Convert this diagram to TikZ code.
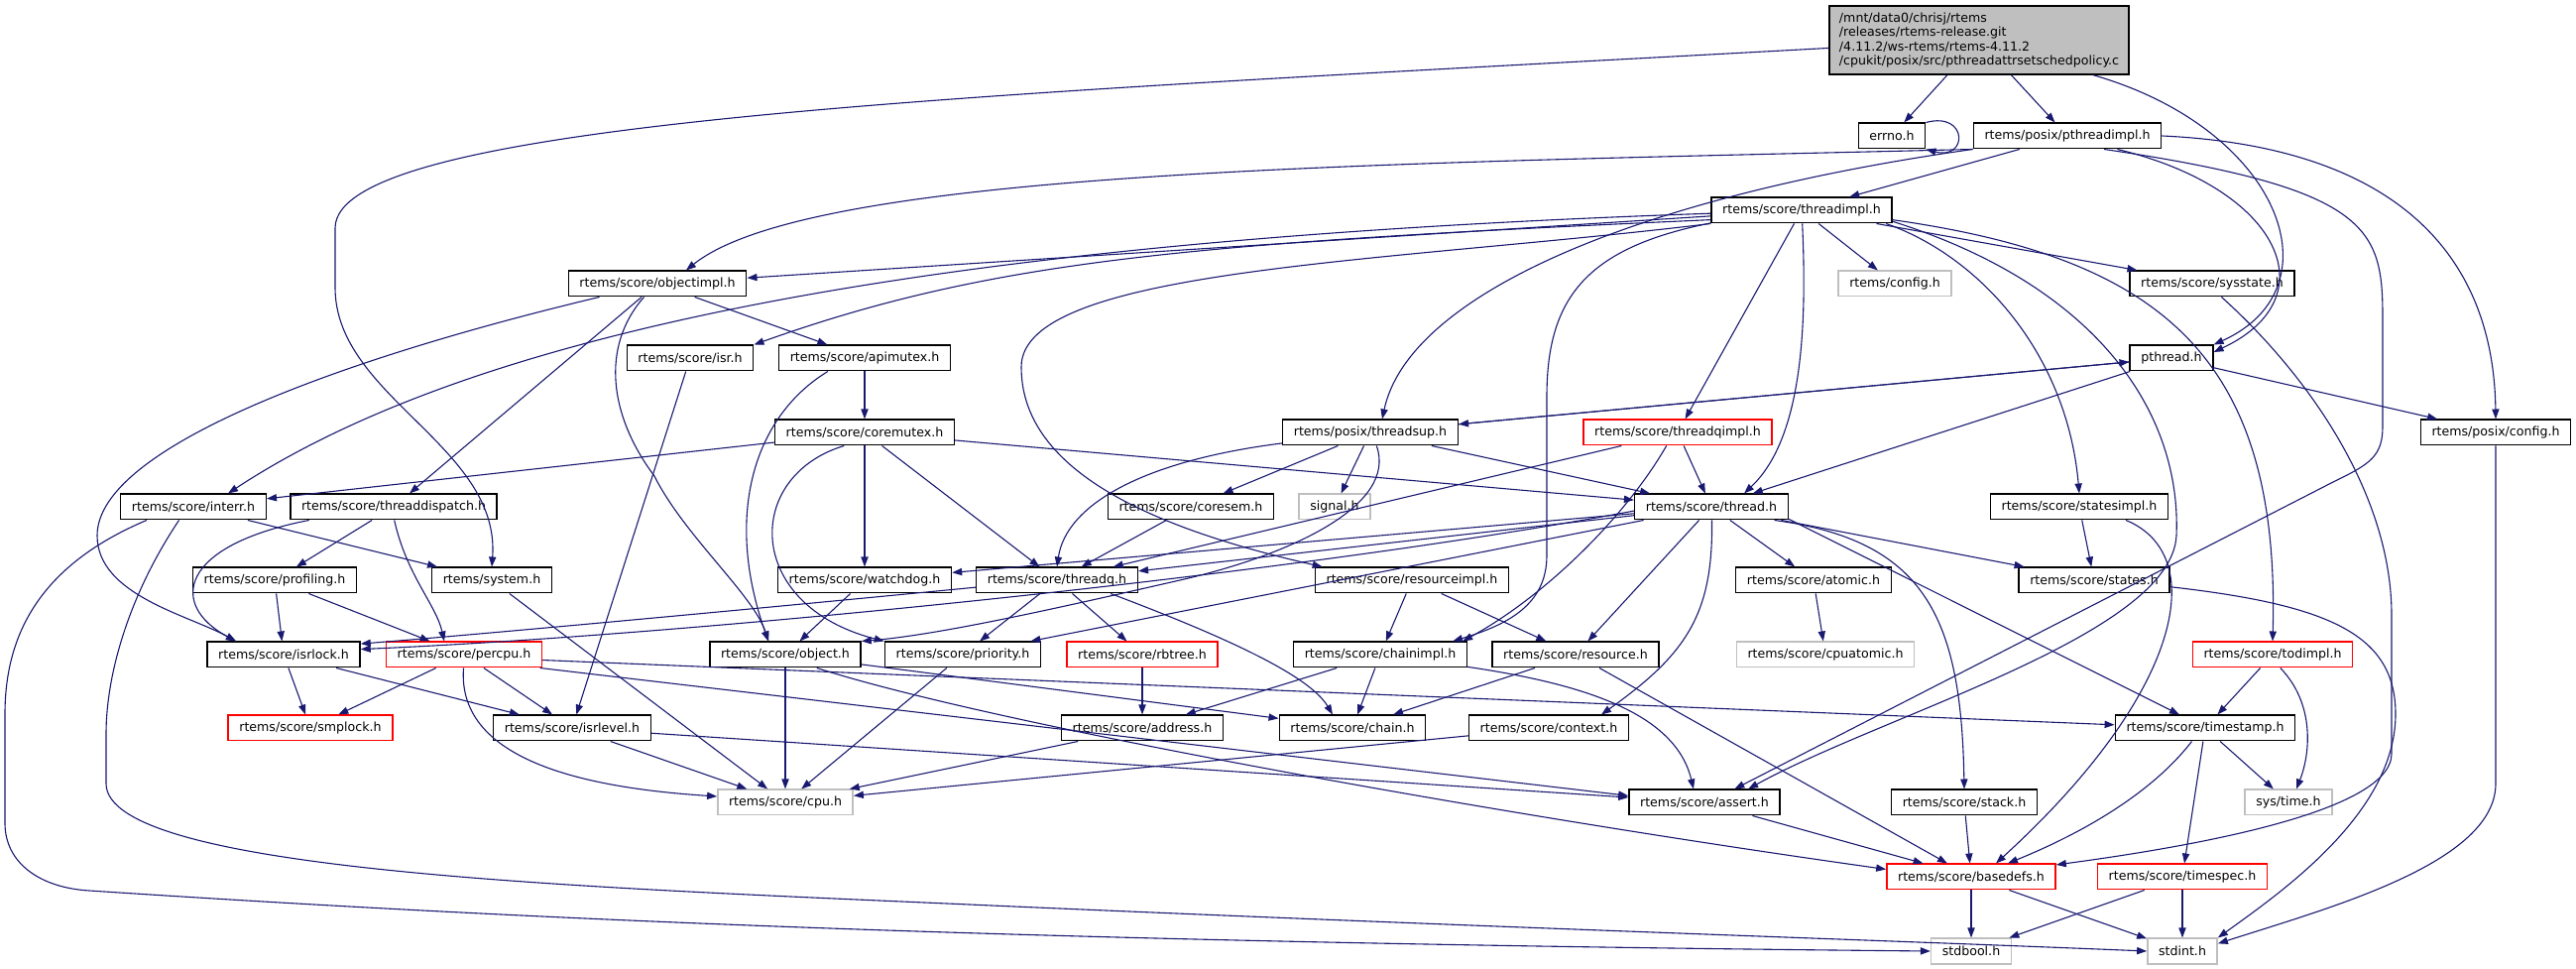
\documentclass[tikz,border=0pt]{standalone}
\usepackage{fontspec}
\setmainfont{DejaVu Sans}
\usetikzlibrary{arrows.meta,calc}
\definecolor{edgeblue}{HTML}{191970}
\definecolor{boxgray}{HTML}{BFBFBF}
\begin{document}
\begin{tikzpicture}[
x = 0.5pt, y = -0.5pt,
font = \fontsize{6.3}{7.15}\selectfont,
hdr/.style = {draw=black, line width=0.7pt, fill=white, minimum height=12.8pt, inner xsep=5.6pt, inner ysep=0pt},
nodoc/.style = {hdr, draw=boxgray},
trunc/.style = {hdr, draw=red},
dep/.style = {draw=edgeblue, line width=0.55pt, -{Triangle[length=5pt,width=3.6pt]}},
]
\useasboundingbox (0,0) rectangle (2598,977);

\node [hdr, fill=boxgray, align=left, minimum height=34.5pt, inner xsep=5pt] (root) at (1996,40.5) {/mnt/data0/chrisj/rtems\\/releases/rtems-release.git\\/4.11.2/ws-rtems/rtems-4.11.2\\/cpukit/posix/src/pthreadattrsetschedpolicy.c};
\node [hdr] (errno) at (1908,137) {errno.h};
\node [hdr] (pthreadimpl) at (2085,137) {rtems/posix/pthreadimpl.h};
\node [hdr] (threadimpl) at (1817,212) {rtems/score/threadimpl.h};
\node [hdr] (objectimpl) at (663,286) {rtems/score/objectimpl.h};
\node [nodoc] (config) at (1911,286) {rtems/config.h};
\node [hdr] (sysstate) at (2231,286) {rtems/score/sysstate.h};
\node [hdr] (isr) at (696,361) {rtems/score/isr.h};
\node [hdr] (apimutex) at (872,361) {rtems/score/apimutex.h};
\node [hdr] (pthread) at (2190,361) {pthread.h};
\node [hdr] (coremutex) at (872,436) {rtems/score/coremutex.h};
\node [hdr] (threadsup) at (1382,436) {rtems/posix/threadsup.h};
\node [trunc] (threadqimpl) at (1692,436) {rtems/score/threadqimpl.h};
\node [hdr] (posixconfig) at (2517,436) {rtems/posix/config.h};
\node [hdr] (interr) at (195,511) {rtems/score/interr.h};
\node [hdr] (threaddispatch) at (397,511) {rtems/score/threaddispatch.h};
\node [hdr] (coresem) at (1201,511) {rtems/score/coresem.h};
\node [nodoc] (signal) at (1346,511) {signal.h};
\node [hdr] (thread) at (1726,511) {rtems/score/thread.h};
\node [hdr] (statesimpl) at (2097,511) {rtems/score/statesimpl.h};
\node [hdr] (profiling) at (277,585) {rtems/score/profiling.h};
\node [hdr] (system) at (496,585) {rtems/system.h};
\node [hdr] (watchdog) at (872,585) {rtems/score/watchdog.h};
\node [hdr] (threadq) at (1066,585) {rtems/score/threadq.h};
\node [hdr] (resourceimpl) at (1424,585) {rtems/score/resourceimpl.h};
\node [hdr] (atomic) at (1829,585) {rtems/score/atomic.h};
\node [hdr] (states) at (2112,585) {rtems/score/states.h};
\node [hdr] (isrlock) at (286,660) {rtems/score/isrlock.h};
\node [trunc] (percpu) at (468,660) {rtems/score/percpu.h};
\node [hdr] (object) at (792,660) {rtems/score/object.h};
\node [hdr] (priority) at (971,660) {rtems/score/priority.h};
\node [trunc] (rbtree) at (1152,660) {rtems/score/rbtree.h};
\node [hdr] (chainimpl) at (1392,660) {rtems/score/chainimpl.h};
\node [hdr] (resource) at (1589,660) {rtems/score/resource.h};
\node [nodoc] (cpuatomic) at (1841,660) {rtems/score/cpuatomic.h};
\node [trunc] (todimpl) at (2292,660) {rtems/score/todimpl.h};
\node [trunc] (smplock) at (313,734) {rtems/score/smplock.h};
\node [hdr] (isrlevel) at (577,734) {rtems/score/isrlevel.h};
\node [hdr] (address) at (1152,734) {rtems/score/address.h};
\node [hdr] (chain) at (1364,734) {rtems/score/chain.h};
\node [hdr] (context) at (1562,734) {rtems/score/context.h};
\node [hdr] (timestamp) at (2224,734) {rtems/score/timestamp.h};
\node [nodoc] (cpu) at (792,809) {rtems/score/cpu.h};
\node [hdr] (assert) at (1719,809) {rtems/score/assert.h};
\node [hdr] (stack) at (1981,809) {rtems/score/stack.h};
\node [nodoc] (systime) at (2308,809) {sys/time.h};
\node [trunc] (basedefs) at (1988,884) {rtems/score/basedefs.h};
\node [trunc] (timespec) at (2201,884) {rtems/score/timespec.h};
\node [nodoc] (stdbool) at (1988,959) {stdbool.h};
\node [nodoc] (stdint) at (2201,959) {stdint.h};

\path[dep] (root) -- (errno);
\path[dep] (root) -- (pthreadimpl);
\path[dep] (root.-17) .. controls (2300,130) and (2360,290) .. (pthread.north east);
\path[dep] (root.183) .. controls (1000,95) and (338,120) .. (338,230) -- (338,290) .. controls (338,400) and (505,450) .. (system.north);
\path[dep] (errno.north east) .. controls (1985,112) and (1985,162) .. (errno.south east);

\path[dep] (pthreadimpl) -- (threadimpl);
\path[dep] (pthreadimpl.south west) .. controls (1400,165) and (820,170) .. (objectimpl.25);
\path[dep] (pthreadimpl.south west) .. controls (1640,200) and (1420,300) .. ($(threadsup.north)+(12,0)$);
\path[dep] (pthreadimpl.-15) .. controls (2300,190) and (2350,300) .. (pthread.8);
\path[dep] (pthreadimpl.east) .. controls (2420,148) and (2515,260) .. (posixconfig.north);
\path[dep] (pthreadimpl.-20) .. controls (2390,190) and (2403,230) .. (2403,320) -- (2403,430) .. controls (2403,460) and (2390,468) .. (2355,485) -- (assert.24);

\path[dep] (threadimpl) -- (objectimpl);
\path[dep] (threadimpl.186) .. controls (1200,245) and (1000,262) .. (isr.north east);
\path[dep] (threadimpl.182) .. controls (1000,240) and (500,320) .. ($(interr.north)+(35,0)$);
\path[dep] (threadimpl.south west) .. controls (1400,265) and (1030,270) .. (1030,370) .. controls (1030,470) and (1150,530) .. ($(resourceimpl.north west)+(8,0)$);
\path[dep] (threadimpl.-172) .. controls (1600,250) and (1560,300) .. (1560,400) -- (1560,560) .. controls (1560,610) and (1520,630) .. ($(chainimpl.north east)+(-15,0)$);
\path[dep] (threadimpl) -- (threadqimpl);
\path[dep] (threadimpl.-87) .. controls (1822,320) and (1820,440) .. ($(thread.north)+(33,0)$);
\path[dep] (threadimpl) -- (config);
\path[dep] (threadimpl) -- (sysstate);
\path[dep] (threadimpl.-9) .. controls (2000,260) and (2085,360) .. (statesimpl.north);
\path[dep] (threadimpl.-6) .. controls (2180,260) and (2300,360) .. (todimpl.north);
\path[dep] (threadimpl.-7) .. controls (2120,290) and (2200,420) .. (2195,540) .. controls (2190,640) and (1900,720) .. (assert.17);

\path[dep] (objectimpl) -- (apimutex);
\path[dep] (objectimpl.-135) .. controls (605,350) and (615,420) .. (660,480) .. controls (690,540) and (760,600) .. ($(object.north)+(-17,0)$);
\path[dep] (objectimpl.-167) .. controls (350,360) and (98,450) .. (98,540) .. controls (98,600) and (190,620) .. ($(isrlock.north)+(-48,0)$);
\path[dep] (objectimpl) -- (threaddispatch);

\path[dep] (isr) -- (isrlevel);
\path[dep] (apimutex) -- (coremutex);
\path[dep] (apimutex.-160) .. controls (760,420) and (730,520) .. ($(object.north)+(-17,0)$);

\path[dep] (coremutex) -- (interr);
\path[dep] (coremutex) -- (thread);
\path[dep] (coremutex) -- (watchdog);
\path[dep] (coremutex) -- (threadq);
\path[dep] (coremutex.-147) .. controls (750,480) and (750,610) .. (priority.north west);

\path[dep] (threadsup) -- (pthread);
\path[dep] (pthread) -- (threadsup);
\path[dep] (threadsup) -- (coresem);
\path[dep] (threadsup) -- (signal);
\path[dep] (threadsup) -- (thread);
\path[dep] (threadsup.-173) .. controls (1150,465) and (1075,510) .. (threadq.north);
\path[dep] (threadsup.-65) .. controls (1410,510) and (1300,560) .. (1190,585) .. controls (1080,610) and (950,640) .. (object.north east);

\path[dep] (thread) -- (watchdog);
\path[dep] (thread) -- (threadq);
\path[dep] (thread.183) .. controls (1300,580) and (700,640) .. (isrlock.4);
\path[dep] (thread) -- (priority);
\path[dep] (thread) -- (atomic);
\path[dep] (thread) -- (states);
\path[dep] (thread) -- (resource);
\path[dep] (thread.-88) .. controls (1728,620) and (1700,660) .. ($(context.north)+(53,0)$);
\path[dep] (thread.-12) .. controls (1940,545) and (1978,620) .. (stack.north);
\path[dep] (thread.-9) -- ($(timestamp.north)+(-26,0)$);

\path[dep] (threadqimpl) -- (thread);
\path[dep] (threadqimpl) -- (threadq);
\path[dep] (threadqimpl.-130) .. controls (1640,520) and (1560,600) .. ($(chainimpl.north east)+(-5,0)$);

\path[dep] (coresem) -- (threadq);
\path[dep] (watchdog) -- (object);

\path[dep] (threadq) -- (priority);
\path[dep] (threadq) -- (rbtree);
\path[dep] (threadq.-14) .. controls (1230,640) and (1320,680) .. ($(chain.north)+(-20,0)$);
\path[dep] (threadq.-175) .. controls (750,615) and (480,640) .. (isrlock.8);

\path[dep] (resourceimpl) -- (chainimpl);
\path[dep] (resourceimpl) -- (resource);
\path[dep] (chainimpl) -- (address);
\path[dep] (chainimpl) -- (chain);
\path[dep] (chainimpl.-8) .. controls (1600,690) and (1690,720) .. ($(assert.north)+(-11,0)$);
\path[dep] (resource) -- (chain);
\path[dep] (resource) -- (basedefs);
\path[dep] (rbtree) -- (address);
\path[dep] (address) -- (cpu);
\path[dep] (context) -- (cpu);

\path[dep] (object) -- (cpu);
\path[dep] (object) -- (chain);
\path[dep] (object.-23) .. controls (1000,730) and (1500,820) .. (basedefs.175);
\path[dep] (priority) -- (cpu);

\path[dep] (percpu) -- (smplock);
\path[dep] (percpu) -- (isrlevel);
\path[dep] (percpu.-92) .. controls (460,770) and (600,795) .. (cpu.175);
\path[dep] (percpu.-4) -- (timestamp.178);
\path[dep] (percpu.-10) -- (assert.175);

\path[dep] (isrlock) -- (smplock);
\path[dep] (isrlock) -- (isrlevel);
\path[dep] (isrlevel) -- (cpu);
\path[dep] (isrlevel) -- (assert);
\path[dep] (profiling) -- (isrlock);
\path[dep] (profiling) -- (percpu);

\path[dep] (threaddispatch.-171) .. controls (180,550) and (170,610) .. ($(isrlock.north)+(-48,0)$);
\path[dep] (threaddispatch) -- (profiling);
\path[dep] (threaddispatch.-87) .. controls (410,580) and (440,610) .. ($(percpu.north)+(-20,0)$);

\path[dep] (interr) -- (system);
\path[dep] (interr.-164) .. controls (40,570) and (5,640) .. (5,720) -- (5,830) .. controls (5,870) and (40,895) .. (90,898) .. controls (500,925) and (1000,950) .. (stdbool.west);
\path[dep] (interr.-137) .. controls (130,600) and (107,680) .. (107,740) -- (107,790) .. controls (107,880) and (600,895) .. (1000,913) .. controls (1500,935) and (1900,948) .. (stdint.west);
\path[dep] (system) -- (cpu);

\path[dep] (atomic) -- (cpuatomic);
\path[dep] (statesimpl) -- (states);
\path[dep] (statesimpl.-16) .. controls (2230,560) and (2200,700) .. ($(basedefs.north)+(25,0)$);
\path[dep] (states.-5) .. controls (2350,610) and (2416,640) .. (2416,720) .. controls (2416,820) and (2300,900) .. (stdint.north east);
\path[dep] (sysstate.-55) .. controls (2330,380) and (2412,500) .. (2412,620) -- (2412,760) .. controls (2412,820) and (2200,855) .. (basedefs.8);
\path[dep] (posixconfig) -- (2517,790) .. controls (2517,870) and (2350,915) .. (stdint.12);
\path[dep] (pthread) -- (thread);
\path[dep] (pthread) -- (posixconfig);

\path[dep] (todimpl) -- (timestamp);
\path[dep] (todimpl.-60) .. controls (2335,710) and (2330,760) .. ($(systime.north)+(8,0)$);
\path[dep] (timestamp.-135) .. controls (2170,800) and (2100,840) .. ($(basedefs.north)+(37,0)$);
\path[dep] (timestamp) -- (timespec);
\path[dep] (timestamp) -- (systime);

\path[dep] (stack) -- (basedefs);
\path[dep] (assert) -- (basedefs);
\path[dep] (basedefs) -- (stdbool);
\path[dep] (basedefs) -- (stdint);
\path[dep] (timespec) -- (stdbool);
\path[dep] (timespec) -- (stdint);

\end{tikzpicture}
\end{document}
